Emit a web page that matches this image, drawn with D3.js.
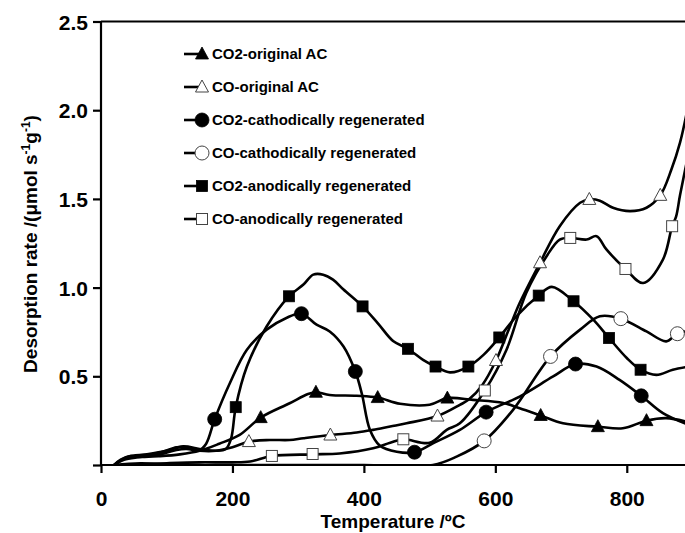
<!DOCTYPE html>
<html><head><meta charset="utf-8">
<script src="https://cdn.jsdelivr.net/npm/d3@7"></script>
<style>
html,body{margin:0;padding:0;background:#fff;overflow:hidden}
text{font-family:"Liberation Sans",Arial,sans-serif;font-weight:bold;fill:#000}
</style></head>
<body><svg id="c" width="685" height="533"></svg>
<script>
// ---- data (Temperature °C, desorption rate µmol s-1 g-1) ----
const seriesNames = ["CO2-original AC","CO-original AC","CO2-cathodically regenerated","CO-cathodically regenerated","CO2-anodically regenerated","CO-anodically regenerated"];
const markerTypes = ["triangle","triangle","circle","circle","square","square"];
const markerFilled = [true,false,true,false,true,false];

const co2OriginalLine = [[20,0],[30,0.03],[45,0.05],[60,0.045],[90,0.05],[120,0.06],[150,0.08],[180,0.12],[211,0.17],[243,0.267],[287,0.348],[315,0.40],[327,0.41],[348,0.395],[389,0.39],[421,0.38],[455,0.345],[500,0.34],[527,0.377],[566,0.367],[612,0.35],[637,0.32],[669,0.279],[703,0.235],[756,0.216],[794,0.207],[830,0.25],[860,0.264],[895,0.24]];
const co2OriginalMarks = [[243,0.267],[327,0.41],[421,0.38],[527,0.377],[669,0.279],[756,0.216],[830,0.25]];

const coOriginalLine = [[20,0],[35,0.03],[60,0.045],[90,0.06],[115,0.085],[130,0.09],[150,0.08],[175,0.08],[200,0.10],[225,0.132],[257,0.141],[287,0.141],[308,0.151],[349,0.169],[389,0.183],[414,0.198],[440,0.217],[465,0.235],[512,0.276],[546,0.339],[560,0.37],[580,0.45],[601,0.589],[620,0.76],[637,0.913],[668,1.14],[698,1.346],[729,1.478],[743,1.497],[759,1.49],[779,1.45],[805,1.431],[830,1.45],[851,1.52],[868,1.667],[881,1.817],[892,2.0]];
const coOriginalMarks = [[225,0.132],[349,0.169],[512,0.276],[601,0.589],[668,1.14],[743,1.497],[851,1.52]];

const co2CathodicLine = [[20,0],[35,0.035],[60,0.05],[90,0.07],[115,0.10],[130,0.10],[150,0.085],[160,0.12],[173,0.258],[196,0.461],[222,0.65],[252,0.763],[282,0.829],[305,0.853],[328,0.791],[348,0.753],[369,0.668],[387,0.527],[397,0.40],[409,0.2],[424,0.11],[450,0.075],[477,0.072],[505,0.122],[546,0.198],[586,0.298],[637,0.386],[688,0.499],[722,0.569],[754,0.555],[789,0.48],[822,0.39],[855,0.292],[895,0.225]];
const co2CathodicMarks = [[173,0.258],[305,0.853],[387,0.527],[477,0.072],[586,0.298],[722,0.569],[822,0.39]];

const coCathodicLine = [[20,0],[60,0.01],[120,0.0],[200,0.0],[300,0.0],[400,0.0],[505,0.0],[541,0.047],[583,0.136],[627,0.311],[684,0.612],[729,0.763],[759,0.838],[791,0.825],[830,0.753],[860,0.697],[877,0.74],[895,0.755]];
const coCathodicMarks = [[583,0.136],[684,0.612],[791,0.825],[877,0.74]];

const co2AnodicLine = [[20,0],[40,0.045],[70,0.06],[100,0.08],[125,0.105],[150,0.09],[175,0.08],[190,0.09],[198,0.15],[205,0.326],[222,0.555],[252,0.781],[286,0.951],[308,1.017],[323,1.073],[338,1.073],[353,1.045],[369,0.989],[398,0.894],[421,0.8],[445,0.697],[467,0.655],[490,0.593],[509,0.555],[531,0.522],[559,0.555],[582,0.621],[606,0.719],[632,0.838],[666,0.955],[686,1.004],[719,0.923],[749,0.819],[773,0.716],[800,0.603],[821,0.537],[845,0.508],[870,0.537],[895,0.555]];
const co2AnodicMarks = [[205,0.326],[286,0.951],[398,0.894],[467,0.655],[509,0.555],[559,0.555],[606,0.719],[666,0.955],[719,0.923],[773,0.716],[821,0.537]];

const coAnodicLine = [[30,0],[100,0.01],[150,0.015],[200,0.015],[227,0.02],[260,0.051],[322,0.06],[363,0.065],[414,0.094],[440,0.126],[460,0.145],[500,0.125],[526,0.198],[546,0.235],[584,0.42],[617,0.65],[647,0.97],[678,1.177],[698,1.271],[714,1.28],[739,1.271],[754,1.29],[769,1.215],[798,1.105],[825,1.026],[855,1.158],[869,1.346],[875,1.40],[881,1.52],[893,1.74]];
const coAnodicMarks = [[260,0.051],[322,0.062],[460,0.145],[584,0.42],[714,1.28],[798,1.105],[869,1.346]];

const xTicks = [0,200,400,600,800];
const yTicks = [0,0.5,1.0,1.5,2.0,2.5];
const yTickLabels = ["","0.5","1.0","1.5","2.0","2.5"];

const lines = [co2OriginalLine,coOriginalLine,co2CathodicLine,coCathodicLine,co2AnodicLine,coAnodicLine];
const marks = [co2OriginalMarks,coOriginalMarks,co2CathodicMarks,coCathodicMarks,co2AnodicMarks,coAnodicMarks];

// ---- drawing ----
const svg = d3.select("#c");
const x = d3.scaleLinear().domain([0,900]).range([101,692.5]);
const y = d3.scaleLinear().domain([0,2.5]).range([465,21.5]);

svg.append("clipPath").attr("id","pc").append("rect")
  .attr("x",x(0)).attr("y",y(2.5)).attr("width",x(900)-x(0)).attr("height",y(0)-y(2.5));

const lineGen = d3.line().x(d=>x(d[0])).y(d=>y(d[1])).curve(d3.curveCatmullRom.alpha(0.5));
const g = svg.append("g").attr("clip-path","url(#pc)");
lines.forEach(L=>{
  g.append("path").attr("d",lineGen(L)).attr("fill","none").attr("stroke","#000").attr("stroke-width",2.6).attr("stroke-linejoin","round");
});

function drawMarker(sel, type, filled, cx, cy){
  const fill = filled ? "#000" : "#fff";
  const stroke = filled ? "#000" : "#444";
  const sw = filled ? 0.8 : 1;
  if(type==="circle"){
    sel.append("circle").attr("cx",cx).attr("cy",cy).attr("r",7).attr("fill",fill).attr("stroke",stroke).attr("stroke-width",sw);
  } else if(type==="square"){
    sel.append("rect").attr("x",cx-5.5).attr("y",cy-5.5).attr("width",11).attr("height",11).attr("fill",fill).attr("stroke",stroke).attr("stroke-width",sw);
  } else {
    sel.append("path").attr("d",`M${cx},${cy-7}L${cx+6.5},${cy+5}L${cx-6.5},${cy+5}Z`).attr("fill",fill).attr("stroke",stroke).attr("stroke-width",sw);
  }
}
const mg = svg.append("g").attr("clip-path","url(#pc)");
marks.forEach((M,i)=>{
  M.forEach(d=>drawMarker(mg, markerTypes[i], markerFilled[i], x(d[0]), y(d[1])));
});

// axes
const ax = svg.append("g").attr("transform",`translate(0,${y(0)})`)
  .call(d3.axisBottom(x).tickValues(xTicks).tickSize(8).tickPadding(18).tickFormat(d3.format("d")));
const ay = svg.append("g").attr("transform",`translate(${x(0)},0)`)
  .call(d3.axisLeft(y).tickValues(yTicks).tickSize(8).tickPadding(5).tickFormat((d,i)=>yTickLabels[i]));
[ax,ay].forEach(a=>{
  a.select(".domain").attr("stroke","#000").attr("stroke-width",2.2);
  a.selectAll(".tick line").attr("stroke","#000").attr("stroke-width",2.2);
  a.selectAll(".tick text").style("font-size","21px").style("font-family","'Liberation Sans',Arial,sans-serif").style("font-weight","bold").attr("fill","#000");
});
ax.select(".domain").attr("d",`M${x(0)},0H${x(900)}`);
ay.select(".domain").attr("d",`M0,${y(0)}V${y(2.5)}`);
ax.selectAll(".tick text").attr("dy","0.71em");
ay.selectAll(".tick text").attr("dy","0.36em");
// top frame
svg.append("line").attr("x1",x(0)).attr("x2",x(900)).attr("y1",y(2.5)).attr("y2",y(2.5)).attr("stroke","#000").attr("stroke-width",2.2);

// axis titles
svg.append("text").attr("x",393).attr("y",528).attr("text-anchor","middle").style("font-size","19px").text("Temperature /ºC");
const yt = svg.append("text").attr("transform","translate(37,244) rotate(-90)").attr("text-anchor","middle").style("font-size","19px");
yt.append("tspan").text("Desorption rate /(μmol s");
yt.append("tspan").attr("dy",-7).style("font-size","12px").text("-1");
yt.append("tspan").attr("dy",7).text("g");
yt.append("tspan").attr("dy",-7).style("font-size","12px").text("-1");
yt.append("tspan").attr("dy",7).text(")");

// legend
const lg = svg.append("g");
seriesNames.forEach((n,i)=>{
  const cy = 54 + i*33;
  lg.append("line").attr("x1",184).attr("x2",204).attr("y1",cy).attr("y2",cy).attr("stroke","#000").attr("stroke-width",2.6);
  drawMarker(lg, markerTypes[i], markerFilled[i], 202, cy);
  lg.append("text").attr("x",212).attr("y",cy).attr("dy","0.36em").style("font-size","15px").text(n);
});
</script></body></html>
